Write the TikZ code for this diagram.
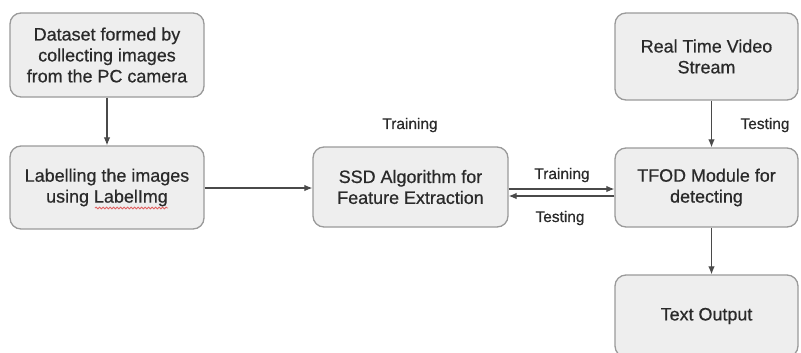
\documentclass[tikz,border=0pt]{standalone}
\usepackage{fontspec}
\setmainfont{Liberation Sans}[BoldFont=Liberation Sans, BoldFeatures={FakeBold=0.6}]
\usetikzlibrary{arrows.meta,decorations.pathmorphing}
\definecolor{boxfill}{HTML}{EEEEEE}
\definecolor{boxline}{HTML}{9A9A9A}
\definecolor{ink}{HTML}{2A2A2A}
\definecolor{wire}{HTML}{4A4A4A}
\definecolor{spell}{HTML}{E06060}

\begin{document}
\begin{tikzpicture}[x=1bp,y=-1bp,
  stage/.style={draw=boxline, line width=1.3bp, fill=boxfill, rounded corners=11bp,
    align=center, font=\fontsize{18}{21}\selectfont\bfseries, text=ink, inner sep=0pt},
  flow/.style={-{Latex[length=8bp,width=6.5bp]}, draw=wire, line width=1.1bp},
  tag/.style={font=\fontsize{15.5}{18}\selectfont\bfseries, text=ink}]
\useasboundingbox (0,0) rectangle (801,352);

% left column
\node[stage, minimum width=194bp, minimum height=84bp] (data) at (107,55)
  {Dataset formed by\\collecting images\\from the PC camera};
\node[stage, minimum width=194bp, minimum height=83bp] (label) at (107,187.5)
  {Labelling the images\\using LabelImg};
% spell-check underline below the tool name
\draw[spell, line width=0.8bp, decorate, decoration={snake, amplitude=0.9bp, segment length=3.5bp}]
  (95,208) -- (168,208);

% middle
\node[stage, minimum width=195bp, minimum height=80bp] (ssd) at (410.5,187)
  {SSD Algorithm for\\Feature Extraction};

% right column
\node[stage, minimum width=183bp, minimum height=87bp] (video) at (706.5,56.5)
  {Real Time Video\\Stream};
\node[stage, minimum width=183bp, minimum height=79bp] (tfod) at (706.5,187.5)
  {TFOD Module for\\detecting};
\node[stage, minimum width=183bp, minimum height=82bp] (out) at (706.5,316)
  {Text Output};

% connectors
\draw[flow] (label.east |- 0,188) -- (ssd.west |- 0,188);
\draw[flow] (data.south) -- (label.north);
\draw[flow] (ssd.east |- 0,189) -- (tfod.west |- 0,189);
\draw[flow] (tfod.west |- 0,196) -- (ssd.east |- 0,196);
\draw[flow] ([xshift=5bp]video.south) -- ([xshift=5bp]tfod.north);
\draw[flow] ([xshift=5bp]tfod.south) -- ([xshift=5bp]out.north);

% labels
\node[tag] (t1) at (410,125) {Training};
\node[tag] (t2) at (562,175) {Training};
\node[tag] (t3) at (560,218) {Testing};
\node[tag] (t4) at (765,125) {Testing};
\end{tikzpicture}
\end{document}
